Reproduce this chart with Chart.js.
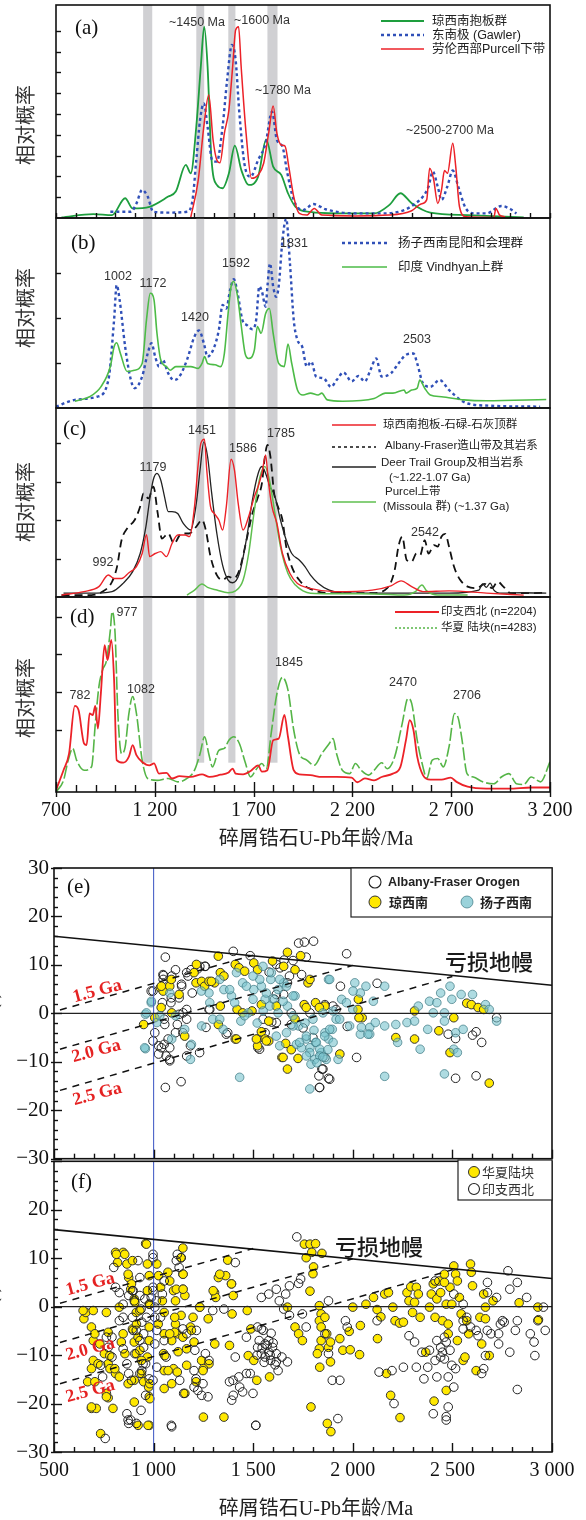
<!DOCTYPE html>
<html><head><meta charset="utf-8">
<script src="https://cdn.jsdelivr.net/npm/chart.js@4.4.0/dist/chart.umd.min.js"></script>
<style>
body{margin:0;background:#fff;}
#wrap{position:relative;width:586px;height:1520px;overflow:hidden;background:#fff;}
canvas{position:absolute;left:0;}
svg.ov{position:absolute;left:0;top:0;}
.t{position:absolute;white-space:nowrap;line-height:1;}
.c{transform:translate(-50%,-50%);}
.l{transform:translateY(-50%);}
.pk{font-family:"Liberation Sans",Arial,sans-serif;font-size:12.5px;color:#333;}
.pl{font-family:"Liberation Serif","Times New Roman",serif;font-size:21px;color:#111;}
.yt{font-family:"Noto Sans CJK SC",sans-serif;font-size:20px;color:#333;transform:translate(-50%,-50%) rotate(-90deg);}
.lg{font-family:"Liberation Sans","Noto Sans CJK SC",sans-serif;font-size:12.5px;color:#222;}
.lg2{font-family:"Liberation Sans","Noto Sans CJK SC",sans-serif;font-size:11.5px;color:#222;}
.xt{font-family:"Liberation Serif","Noto Sans CJK SC",serif;font-size:20px;color:#222;}
.dm{font-family:"Noto Sans CJK SC",sans-serif;font-size:22px;font-weight:500;color:#1a1a1a;}
.ga{font-family:"Liberation Serif",serif;font-size:18px;font-weight:bold;color:#e52222;transform:translate(-50%,-50%) rotate(-15deg);}
</style></head><body><div id="wrap">
<canvas id="cA" width="586" height="222" style="top:0px"></canvas>
<canvas id="cB" width="586" height="198" style="top:214px"></canvas>
<canvas id="cC" width="586" height="197" style="top:404px"></canvas>
<canvas id="cD" width="586" height="240" style="top:593px"></canvas>
<canvas id="cE" width="586" height="314" style="top:850px"></canvas>
<canvas id="cF" width="586" height="364" style="top:1156px"></canvas>

<svg class="ov" width="586" height="1520">
 <g fill="none">
  <line x1="381" y1="21" x2="424" y2="21" stroke="#1e9e3e" stroke-width="1.8"/>
  <line x1="381" y1="35" x2="424" y2="35" stroke="#3050b8" stroke-width="2.4" stroke-dasharray="3 3"/>
  <line x1="381" y1="49" x2="424" y2="49" stroke="#ec2228" stroke-width="1.6"/>
  <line x1="342" y1="243" x2="387" y2="243" stroke="#3050b8" stroke-width="2.4" stroke-dasharray="3 3"/>
  <line x1="342" y1="267" x2="387" y2="267" stroke="#4dbb47" stroke-width="1.6"/>
  <line x1="332" y1="425" x2="376" y2="425" stroke="#ec2228" stroke-width="1.5"/>
  <line x1="332" y1="447" x2="376" y2="447" stroke="#111" stroke-width="1.6" stroke-dasharray="3 3"/>
  <line x1="332" y1="467" x2="376" y2="467" stroke="#222" stroke-width="1.3"/>
  <line x1="332" y1="502" x2="376" y2="502" stroke="#5fbf4f" stroke-width="1.5"/>
  <line x1="395" y1="612" x2="439" y2="612" stroke="#ec2228" stroke-width="1.8"/>
  <line x1="395" y1="628" x2="439" y2="628" stroke="#55b547" stroke-width="1.5" stroke-dasharray="2 2"/>
 </g>
 <rect x="351" y="868" width="201" height="49" fill="#fff" stroke="#222" stroke-width="1.2"/>
 <circle cx="375" cy="882" r="6" fill="none" stroke="#222" stroke-width="1.1"/>
 <circle cx="375" cy="902" r="6" fill="#ffe800" stroke="#333" stroke-width="1"/>
 <circle cx="467" cy="902" r="6" fill="rgba(120,195,205,0.75)" stroke="rgba(60,120,130,0.7)" stroke-width="1"/>
 <rect x="458" y="1160" width="94" height="40" fill="#fff" stroke="#222" stroke-width="1.2"/>
 <circle cx="474" cy="1172" r="5.5" fill="#ffe800" stroke="#333" stroke-width="1"/>
 <circle cx="474" cy="1189" r="5.5" fill="none" stroke="#222" stroke-width="1.1"/>
</svg>

<div class="t yt" style="left:25px;top:125px">相对概率</div>
<div class="t yt" style="left:25px;top:308px">相对概率</div>
<div class="t yt" style="left:25px;top:502px">相对概率</div>
<div class="t yt" style="left:25px;top:698px">相对概率</div>

<div class="t pl l" style="left:75px;top:27px">(a)</div>
<div class="t pl l" style="left:71px;top:242px">(b)</div>
<div class="t pl l" style="left:63px;top:428px">(c)</div>
<div class="t pl l" style="left:70px;top:616px">(d)</div>
<div class="t pl l" style="left:67px;top:886px">(e)</div>
<div class="t pl l" style="left:71px;top:1181px">(f)</div>

<div class="t pk c" style="left:197px;top:22px">~1450 Ma</div>
<div class="t pk c" style="left:262px;top:20px">~1600 Ma</div>
<div class="t pk c" style="left:283px;top:90px">~1780 Ma</div>
<div class="t pk c" style="left:450px;top:130px">~2500-2700 Ma</div>
<div class="t pk c" style="left:118px;top:276px">1002</div>
<div class="t pk c" style="left:153px;top:283px">1172</div>
<div class="t pk c" style="left:195px;top:317px">1420</div>
<div class="t pk c" style="left:236px;top:263px">1592</div>
<div class="t pk c" style="left:294px;top:243px">1831</div>
<div class="t pk c" style="left:417px;top:339px">2503</div>
<div class="t pk c" style="left:153px;top:467px">1179</div>
<div class="t pk c" style="left:202px;top:430px">1451</div>
<div class="t pk c" style="left:243px;top:448px">1586</div>
<div class="t pk c" style="left:281px;top:433px">1785</div>
<div class="t pk c" style="left:103px;top:562px">992</div>
<div class="t pk c" style="left:425px;top:532px">2542</div>
<div class="t pk c" style="left:127px;top:612px">977</div>
<div class="t pk c" style="left:80px;top:695px">782</div>
<div class="t pk c" style="left:141px;top:689px">1082</div>
<div class="t pk c" style="left:289px;top:662px">1845</div>
<div class="t pk c" style="left:403px;top:682px">2470</div>
<div class="t pk c" style="left:467px;top:695px">2706</div>

<div class="t lg l" style="left:432px;top:21px">琼西南抱板群</div>
<div class="t lg l" style="left:432px;top:35px">东南极 (Gawler)</div>
<div class="t lg l" style="left:432px;top:49px">劳伦西部Purcell下带</div>
<div class="t lg l" style="left:398px;top:243px">扬子西南昆阳和会理群</div>
<div class="t lg l" style="left:398px;top:267px">印度 Vindhyan上群</div>
<div class="t lg2 l" style="left:383px;top:425px">琼西南抱板-石碌-石灰顶群</div>
<div class="t lg2 l" style="left:385px;top:446px">Albany-Fraser造山带及其岩系</div>
<div class="t lg2 l" style="left:381px;top:463px">Deer Trail Group及相当岩系</div>
<div class="t lg2 l" style="left:389px;top:478px">(~1.22-1.07 Ga)</div>
<div class="t lg2 l" style="left:385px;top:492px">Purcel上带</div>
<div class="t lg2 l" style="left:383px;top:507px">(Missoula 群) (~1.37 Ga)</div>
<div class="t lg2 l" style="left:441px;top:612px">印支西北 (n=2204)</div>
<div class="t lg2 l" style="left:441px;top:628px">华夏 陆块(n=4283)</div>

<div class="t xt c" style="left:316px;top:838px">碎屑锆石U-Pb年龄/Ma</div>
<div class="t xt c" style="left:316px;top:1508px">碎屑锆石U-Pb年龄/Ma</div>
<div class="t xt c" style="left:-10px;top:1016px;transform:translate(-50%,-50%) rotate(-90deg)">εHf(t)</div>
<div class="t xt c" style="left:-10px;top:1310px;transform:translate(-50%,-50%) rotate(-90deg)">εHf(t)</div>

<div class="t lg l" style="left:388px;top:882px;font-weight:bold">Albany-Fraser Orogen</div>
<div class="t lg l" style="left:389px;top:902px;font-weight:bold;font-size:13px">琼西南</div>
<div class="t lg l" style="left:480px;top:902px;font-weight:bold;font-size:13px">扬子西南</div>
<div class="t lg l" style="left:482px;top:1172px;font-size:13px;color:#333">华夏陆块</div>
<div class="t lg l" style="left:482px;top:1189px;font-size:13px;color:#333">印支西北</div>

<div class="t dm c" style="left:489px;top:960px">亏损地幔</div>
<div class="t dm c" style="left:379px;top:1245px">亏损地幔</div>
<div class="t ga" style="left:97px;top:990px">1.5 Ga</div>
<div class="t ga" style="left:96px;top:1050px">2.0 Ga</div>
<div class="t ga" style="left:97px;top:1093px">2.5 Ga</div>
<div class="t ga" style="left:90px;top:1283px">1.5 Ga</div>
<div class="t ga" style="left:90px;top:1348px">2.0 Ga</div>
<div class="t ga" style="left:90px;top:1390px">2.5 Ga</div>
</div>

<script>
// ---------- data: age (Ma) vs relative probability ----------
const bandRanges = [[1141,1187],[1410,1450],[1572,1608],[1770,1821]];

const aGreen = [[728,0.03],[889,0.19],[984,0.14],[1050,0.95],[1088,0.46],[1173,0.54],[1268,1.03],[1306,1.27],[1357,2.55],[1382,2.15],[1410,4.4],[1433,7.3],[1450,9.2],[1467,7.3],[1486,2.95],[1514,1.59],[1543,1.43],[1575,2.15],[1605,3.48],[1638,2.3],[1675,1.59],[1723,1.99],[1764,3.78],[1799,2.47],[1840,2.07],[1874,1.19],[1912,0.54],[1988,0.29],[2120,0.22],[2310,0.22],[2386,0.62],[2443,1.19],[2500,0.71],[2594,0.26],[2783,0.14],[3067,0.03]];
const aBlue = [[975,0.3],[1079,0.3],[1107,0.7],[1136,1.35],[1164,1.03],[1192,0.3],[1268,0.26],[1363,0.3],[1391,0.87],[1410,2.79],[1429,4.71],[1448,5.51],[1467,4.39],[1490,2.79],[1514,2.71],[1543,4.39],[1566,6.63],[1590,8.32],[1609,7.6],[1628,5.03],[1656,2.47],[1685,1.99],[1723,2.79],[1761,3.59],[1793,5.11],[1818,3.75],[1846,3.43],[1871,2.15],[1903,0.87],[1950,0.38],[2003,0.67],[2064,0.42],[2215,0.22],[2348,0.22],[2462,0.38],[2519,0.7],[2557,1.03],[2585,1.5],[2607,2.23],[2632,1.5],[2651,0.87],[2680,1.5],[2708,2.28],[2736,1.5],[2774,0.46],[2821,0.22],[2878,0.22],[2954,0.58],[3001,0.42],[3030,0.22]];
const aRed = [[1382,0.03],[1420,1.83],[1448,4.39],[1473,5.91],[1495,3.75],[1514,2.79],[1530,2.66],[1552,4.07],[1575,5.19],[1594,7.28],[1609,9.04],[1624,9.2],[1637,7.28],[1662,4.07],[1689,1.91],[1723,2.07],[1751,2.63],[1776,4.07],[1799,5.38],[1818,4.07],[1840,3.51],[1859,3.46],[1878,2.47],[1903,1.03],[1931,0.22],[1969,0.14],[2007,0.46],[2045,0.14],[2215,0.1],[2386,0.14],[2500,0.35],[2547,0.67],[2576,0.87],[2591,2.39],[2610,1.91],[2632,0.7],[2651,1.35],[2666,2.28],[2681,2.15],[2708,3.59],[2723,2.47],[2742,0.54],[2774,0.06],[2916,0.03],[2926,0.46],[2945,0.14],[2973,0.06]];

const bBlue = [[700,0.03],[795,0.18],[908,0.25],[965,0.62],[994,1.96],[1007,2.73],[1022,2.4],[1050,1.36],[1079,0.62],[1098,0.44],[1136,0.7],[1164,1.21],[1183,1.44],[1202,1.14],[1221,0.92],[1240,1.07],[1268,0.77],[1297,0.62],[1325,0.7],[1363,1.07],[1401,1.59],[1424,1.72],[1448,1.44],[1467,1.14],[1495,1.29],[1524,1.73],[1543,2.29],[1562,2.21],[1581,2.62],[1600,2.86],[1619,2.55],[1643,1.96],[1666,1.84],[1694,1.75],[1713,1.96],[1729,2.7],[1742,2.59],[1761,2.25],[1770,2.7],[1783,3.21],[1799,2.7],[1814,2.47],[1827,2.7],[1846,3.73],[1865,4.2],[1884,3.21],[1903,1.96],[1922,1.51],[1946,1.36],[1969,0.92],[1992,1.03],[2016,0.7],[2054,0.66],[2092,0.47],[2120,0.62],[2155,0.79],[2196,0.59],[2230,0.71],[2263,0.59],[2291,0.84],[2320,1.1],[2348,0.7],[2395,0.77],[2433,0.99],[2471,1.18],[2509,1.21],[2528,0.99],[2557,0.55],[2594,0.47],[2641,0.62],[2689,0.4],[2746,0.18],[2783,0.1],[2900,0.05],[3150,0.03]];
const bGreen = [[795,0.15],[870,0.25],[927,0.47],[975,0.92],[994,1.36],[1007,1.45],[1026,1.21],[1060,0.81],[1098,0.84],[1136,0.99],[1158,1.96],[1177,2.55],[1196,2.4],[1211,1.66],[1230,1.07],[1259,0.92],[1278,0.84],[1306,0.92],[1382,0.92],[1420,0.88],[1439,0.99],[1452,1.14],[1467,0.99],[1505,0.96],[1533,0.92],[1552,1.21],[1571,2.1],[1586,2.7],[1600,2.81],[1619,2.47],[1638,1.81],[1657,1.21],[1675,1.1],[1704,1.29],[1719,1.81],[1738,1.66],[1761,2.1],[1780,2.21],[1799,1.66],[1827,0.99],[1855,0.92],[1874,1.42],[1893,0.99],[1922,0.4],[1950,0.29],[1988,0.33],[2026,0.29],[2045,0.33],[2073,0.18],[2150,0.15],[2310,0.21],[2367,0.33],[2405,0.33],[2462,0.4],[2471,0.33],[2500,0.4],[2528,0.44],[2541,0.62],[2566,0.44],[2594,0.29],[2651,0.25],[2764,0.18],[2878,0.16],[3181,0.19]];

const cRed = [[728,0.05],[841,0.14],[917,0.27],[965,0.57],[994,0.48],[1032,0.48],[1069,0.63],[1107,0.79],[1136,1.13],[1158,1.62],[1174,1.05],[1202,1.13],[1230,1.18],[1259,1.05],[1287,1.39],[1316,1.61],[1354,1.61],[1376,1.57],[1401,2.35],[1420,3.47],[1433,3.99],[1451,4.1],[1463,3.3],[1482,2.35],[1501,2.17],[1524,2.0],[1543,1.74],[1562,2.35],[1586,3.58],[1603,3.3],[1622,2.43],[1647,1.74],[1675,2.09],[1704,2.61],[1723,2.87],[1742,3.21],[1761,3.69],[1774,3.04],[1793,2.35],[1818,1.91],[1846,1.13],[1884,0.61],[1922,0.35],[1979,0.23],[2110,0.14],[2300,0.18],[2395,0.29],[2446,0.42],[2500,0.27],[2557,0.14],[2689,0.16],[2878,0.1],[3067,0.05]];
const cDash = [[728,0.05],[879,0.05],[936,0.14],[984,0.4],[1009,0.79],[1032,1.48],[1060,1.78],[1098,2.0],[1126,2.35],[1143,2.69],[1168,2.56],[1193,2.87],[1214,2.2],[1236,1.52],[1268,1.65],[1297,1.39],[1335,1.65],[1373,1.65],[1410,1.83],[1439,2.0],[1458,1.74],[1482,1.05],[1514,0.57],[1543,0.44],[1571,0.53],[1600,0.48],[1628,0.7],[1657,1.31],[1694,2.17],[1723,2.61],[1742,2.95],[1755,3.56],[1770,3.95],[1785,3.65],[1804,2.69],[1823,2.35],[1846,2.0],[1865,1.31],[1893,0.79],[1931,0.44],[1979,0.23],[2110,0.1],[2300,0.1],[2376,0.23],[2414,0.7],[2433,1.31],[2452,1.57],[2475,0.96],[2500,0.92],[2524,1.13],[2543,1.09],[2566,1.48],[2585,1.13],[2613,1.35],[2632,1.31],[2651,1.57],[2670,1.64],[2689,1.31],[2714,0.79],[2746,0.44],[2783,0.27],[2831,0.23],[2869,0.34],[2907,0.23],[2935,0.4],[2964,0.27],[3001,0.1],[3096,0.1],[3181,0.11]];
const cBlack = [[738,0.1],[870,0.1],[984,0.14],[1041,0.36],[1088,0.66],[1126,1.13],[1155,1.83],[1174,2.52],[1192,3.04],[1211,3.21],[1230,3.04],[1249,2.61],[1268,2.22],[1287,2.22],[1316,2.17],[1344,1.91],[1382,1.74],[1410,2.43],[1429,3.3],[1448,4.03],[1467,3.65],[1486,2.78],[1514,1.65],[1543,0.83],[1571,0.44],[1594,0.37],[1628,0.61],[1666,1.57],[1694,2.52],[1723,3.21],[1742,3.39],[1761,3.21],[1783,2.87],[1808,2.61],[1836,2.0],[1865,1.48],[1893,1.13],[1931,0.96],[1960,0.79],[1988,0.57],[2026,0.36],[2083,0.18],[2177,0.1],[2500,0.1],[2689,0.1],[2840,0.18],[2859,0.34],[2878,0.25],[2897,0.36],[2916,0.18],[2954,0.1],[3067,0.11],[3181,0.1]];
const cGreen = [[1363,0.05],[1401,0.18],[1439,0.34],[1467,0.25],[1514,0.18],[1571,0.11],[1609,0.16],[1647,0.44],[1675,1.13],[1704,2.26],[1733,3.13],[1757,3.39],[1780,3.04],[1808,2.17],[1836,1.31],[1874,0.61],[1912,0.31],[1950,0.16],[1988,0.1],[2310,0.08],[2462,0.05],[2519,0.14],[2552,0.31],[2576,0.16],[2632,0.05],[2783,0.05]];

const dRed = [[700,-0.61],[738,-0.08],[766,0.36],[795,1.63],[814,1.52],[842,0.63],[855,0.59],[870,1.43],[886,1.39],[899,1.63],[912,1.03],[927,1.96],[946,3.25],[961,2.85],[980,3.39],[994,2.32],[1007,0.19],[1041,0.12],[1069,0.28],[1088,0.59],[1107,0.32],[1136,0.14],[1173,0.05],[1196,0.1],[1221,-0.17],[1259,-0.15],[1287,-0.3],[1325,-0.24],[1382,-0.26],[1439,-0.19],[1477,-0.26],[1533,-0.2],[1571,-0.15],[1594,-0.04],[1609,-0.17],[1647,-0.19],[1685,-0.1],[1723,0.05],[1742,-0.12],[1770,-0.08],[1799,0.72],[1827,0.76],[1856,1.39],[1874,0.81],[1903,-0.08],[1931,-0.19],[1988,-0.21],[2045,-0.26],[2120,-0.26],[2196,-0.28],[2225,-0.4],[2263,-0.3],[2310,-0.35],[2348,-0.26],[2405,-0.17],[2443,0.01],[2471,0.72],[2490,1.25],[2509,0.99],[2528,0.28],[2557,-0.21],[2594,-0.33],[2651,-0.33],[2698,-0.28],[2727,-0.39],[2783,-0.52],[2878,-0.57],[2992,-0.57],[3105,-0.54],[3200,-0.54]];
const dGreen = [[700,-0.66],[738,-0.35],[762,0.19],[785,0.5],[804,0.19],[842,-0.08],[880,0.01],[899,1.16],[917,2.14],[936,2.59],[956,2.85],[975,3.65],[984,4.14],[999,3.56],[1013,1.43],[1032,0.36],[1050,0.54],[1069,1.43],[1088,1.88],[1107,1.43],[1136,0.19],[1164,-0.3],[1211,-0.35],[1268,-0.3],[1316,-0.39],[1363,-0.3],[1401,-0.08],[1429,0.36],[1452,0.81],[1473,0.36],[1492,0.01],[1524,0.45],[1552,0.5],[1575,0.72],[1600,0.81],[1628,0.63],[1657,0.14],[1685,-0.26],[1713,-0.06],[1742,0.1],[1764,-0.04],[1789,0.9],[1818,1.96],[1846,2.39],[1874,2.05],[1903,0.99],[1931,0.36],[1969,0.19],[2007,0.05],[2045,0.36],[2083,0.63],[2102,0.76],[2120,0.36],[2149,-0.08],[2187,-0.17],[2215,0.1],[2244,-0.08],[2282,-0.21],[2310,-0.08],[2348,0.12],[2376,-0.04],[2414,0.28],[2452,1.16],[2481,1.83],[2500,1.7],[2528,0.72],[2557,0.01],[2576,-0.3],[2604,0.19],[2632,0.23],[2660,0.01],[2689,0.54],[2717,1.43],[2736,1.3],[2755,0.72],[2780,-0.17],[2812,-0.26],[2859,-0.39],[2916,-0.44],[2954,-0.26],[2992,-0.17],[3030,-0.44],[3067,-0.46],[3105,-0.26],[3152,-0.39],[3200,0.14]];

// ---------- data: age (Ma) vs eHf(t) ----------
const dmLine = [[500,15.9],[3000,5.8]];
const chur = [[500,0],[3000,0]];
const ga15 = [[530,0.7],[1500,12.0]];
const ga20 = [[530,-7.4],[2000,9.9]];
const ga25 = [[530,-15.9],[2500,7.6]];
const ref1000 = [[1000,-30],[1000,30]];

const eAFO = [[1059,11.6],[1050,7.8],[1048,7.0],[1110,9.0],[1141,5.6],[1091,7.7],[1166,8.4],[1188,9.0],[1222,9.2],[1260,9.7],[988,4.6],[1044,2.2],[1087,2.2],[1128,3.2],[1194,4.2],[1278,0.8],[1263,-2.9],[997,-5.7],[1025,-6.7],[1053,-6.4],[1081,-7.1],[1025,-8.4],[1063,-8.8],[1081,-9.8],[1110,-4.0],[1119,-2.3],[1166,-8.8],[1185,-6.7],[1231,-8.1],[1059,-15.3],[1138,-14.1],[1166,-1.2],[1166,0.8],[1053,-1.2],[1006,-4.0],[1128,-0.2],[1147,-4.0],[1372,-4.0],[1400,12.8],[1485,11.9],[1522,-5.3],[1532,-7.4],[1560,-4.0],[1616,10.1],[1635,9.4],[1682,7.7],[1728,14.5],[1757,14.7],[1803,14.9],[1766,11.6],[1743,8.0],[1691,-2.3],[1593,-1.8],[1653,3.9],[1860,-9.1],[1832,-15.3],[1845,-11.5],[1878,-13.4],[1916,0.8],[1938,5.6],[1969,12.3],[1972,-2.7],[2019,-9.1],[2122,6.2],[2516,-5.2],[2516,-13.4],[2619,-12.9],[2647,-6.0],[2601,-4.5],[2619,-3.8],[2722,-0.9],[2479,-4.3],[1616,3.9],[1672,6.3],[1607,2.9],[1550,-1.2],[1691,0.1],[1785,0.1],[1860,1.8],[1047,8.0],[1173,7.7],[1140,6.0],[1232,9.7],[1257,9.7],[997,4.6],[1089,3.2],[1148,0.1],[1056,-2.3],[1039,-7.1],[1073,-5.3],[1081,-9.5],[1282,0.8],[1365,-4.3],[1524,-7.1],[1616,-1.9],[1850,-11.5],[1884,-13.6],[1834,-15.3],[1830,-12.9],[1655,11.0],[1700,10.9],[1580,8.5],[1900,1.5],[1750,-3.0],[1800,-5.0]];
const eQXN = [[950,-2.3],[1006,-0.9],[1034,5.3],[1048,4.6],[1081,5.6],[1038,1.2],[1091,0.1],[1128,3.9],[1156,-4.7],[1203,8.4],[1213,6.3],[1241,6.6],[1256,5.6],[1278,6.6],[1306,6.3],[1325,11.8],[1335,8.4],[1353,7.7],[1335,1.5],[1410,10.1],[1429,9.4],[1457,8.7],[1503,10.4],[1522,9.0],[1597,10.8],[1653,9.7],[1672,12.6],[1710,9.0],[1738,11.9],[1775,6.3],[1785,7.0],[1813,2.2],[1860,1.5],[1832,1.2],[2028,2.9],[2047,-0.9],[2310,0.5],[2216,-5.0],[2310,-5.3],[2432,-3.6],[2488,-8.1],[2507,-0.9],[2572,2.1],[2595,1.8],[2629,1.2],[2657,0.8],[2685,-14.4],[1325,-2.3],[1410,-5.3],[1522,-6.7],[1541,-3.8],[1560,-5.3],[1578,-5.7],[1644,-9.1],[1672,-11.5],[1691,-7.5],[1725,-9.3],[1663,-6.2],[1710,-1.2],[1756,1.8],[1578,-1.6],[1616,1.5],[1935,-8.4],[1766,1.2],[1419,0.8],[1447,0.1],[1494,0.5],[1541,1.8],[1039,5.6],[1089,7.0],[1215,10.1],[1290,6.6],[1416,-5.3],[1516,-5.3],[1566,-5.7],[1650,-9.1],[2031,-0.9],[2026,0.8]];
const eYZ = [[959,-0.2],[959,-7.3],[988,2.2],[1016,-1.9],[1091,-5.3],[1110,-0.5],[1185,-9.5],[1241,-2.6],[1297,-1.2],[1278,4.2],[1353,4.9],[1391,3.6],[1432,-13.2],[1438,-1.6],[1475,0.1],[1447,6.3],[1503,4.9],[1541,5.6],[1560,2.9],[1588,7.0],[1625,4.9],[1653,6.3],[1625,0.1],[1672,1.5],[1710,3.6],[1728,-2.6],[1766,-5.3],[1785,-7.1],[1813,-6.0],[1841,-8.1],[1878,-5.3],[1897,-3.3],[1860,-4.0],[1916,-1.2],[1944,2.9],[2000,0.8],[2038,4.2],[2066,5.6],[2085,-2.9],[2103,2.5],[2160,5.6],[2160,-2.6],[2160,-13.0],[2216,-2.3],[2225,-6.0],[2272,-1.9],[2310,-1.6],[2338,-7.4],[2329,1.5],[2376,-3.3],[2385,2.5],[2422,2.2],[2441,4.2],[2460,-12.5],[2460,0.1],[2488,5.6],[2497,2.9],[2516,-4.0],[2507,-7.4],[2525,-8.1],[2544,3.9],[2554,-3.3],[2601,3.9],[2666,1.8],[2685,0.8],[2722,-1.6],[2460,-1.6],[2404,0.1],[1878,7.0],[2010,6.3],[2113,-1.9],[2038,-4.3],[2085,-4.3],[964,0.1],[955,-7.1],[989,2.5],[1031,-0.5],[1081,4.2],[1156,-3.3],[1190,-6.4],[1240,4.6],[1282,2.2],[1332,-1.2],[1349,-3.3],[1382,4.9],[1407,2.2],[1457,-0.5],[1466,5.6],[1499,2.9],[1533,7.0],[1566,4.2],[1583,1.5],[1616,-4.7],[1633,-6.7],[1667,-4.0],[1700,-2.6],[1717,-6.4],[1742,-7.1],[1767,-4.7],[1784,-8.1],[1817,-6.0],[1834,-7.4],[1859,-4.7],[1884,-3.3],[1901,-6.0],[1926,-9.5],[1867,-9.5],[1809,-9.5],[1784,-15.6],[1834,-8.8],[1767,-8.8],[1733,-6.0],[1800,-1.2],[1850,0.1],[1901,0.5],[1934,-1.2],[1984,-2.6],[2043,-2.9],[2076,-4.3],[1884,7.0],[1968,2.2],[2001,4.6],[1591,8.4],[1633,7.0],[1667,5.6],[1700,3.6],[1499,7.7],[1549,9.7],[1416,8.4],[1332,7.0],[1790,-10.5],[1820,-10.2],[1850,-9.0],[1875,-7.5],[1805,-3.5],[1760,-2.0],[1700,-0.5],[1650,2.5],[1600,3.0],[1550,0.5],[1520,-2.0]];

const fHX = [[650,-2.5],[660,-1.2],[697,-0.8],[688,-4.2],[697,-7.0],[697,-11.1],[688,-12.8],[669,-15.5],[688,-21.0],[712,-21.0],[734,-26.2],[763,-1.2],[772,-5.3],[753,-9.7],[772,-11.8],[781,-12.8],[763,-17.9],[772,-18.8],[796,-21.0],[809,11.2],[819,9.1],[847,11.2],[866,8.8],[894,9.5],[828,-0.1],[847,-5.6],[838,-7.3],[856,-9.7],[809,-13.8],[828,-14.5],[875,6.0],[885,3.6],[903,1.6],[913,-1.2],[894,-4.6],[903,-7.3],[913,-9.7],[903,-15.2],[903,-19.7],[922,-24.5],[950,-15.5],[960,13.0],[969,8.8],[978,6.4],[969,3.3],[978,0.5],[978,-4.2],[978,-7.0],[969,-10.4],[975,-16.6],[978,-18.6],[978,-24.5],[1016,8.8],[1025,6.4],[1035,4.0],[1044,1.2],[1053,-1.2],[1053,-5.6],[1050,-9.7],[1053,-13.2],[1053,-16.9],[1072,7.1],[1081,5.3],[1100,3.3],[1110,1.2],[1110,-3.6],[1119,-5.6],[1091,-7.0],[1100,-12.8],[1119,-13.5],[1091,-15.9],[1138,10.1],[1147,12.1],[1147,6.7],[1147,3.6],[1157,2.3],[1138,-1.8],[1147,-6.3],[1166,-8.7],[1157,-17.9],[1166,-12.1],[1185,-4.2],[1203,-7.3],[1213,-15.5],[1250,-22.8],[1231,-0.1],[1241,-11.1],[1278,-11.8],[1250,-12.8],[1274,-2.5],[1306,2.9],[1312,1.9],[1325,6.0],[1362,6.4],[1372,9.6],[1391,4.7],[1400,2.3],[1394,-1.5],[1381,-8.0],[1353,-22.8],[1470,-0.8],[1475,-10.1],[1518,-15.2],[1488,-4.6],[1582,-14.5],[1503,-11.1],[1672,-0.1],[1710,-4.2],[1728,-5.6],[1747,-7.0],[1757,12.9],[1785,12.9],[1813,13.0],[1766,10.1],[1794,11.2],[1845,11.0],[1803,8.2],[1800,6.8],[1785,3.2],[1790,-20.7],[1832,0.2],[1841,-1.5],[1832,-2.9],[1841,-4.2],[1841,-7.0],[1832,-8.7],[1822,-9.7],[1834,-12.5],[1860,-2.2],[1869,-5.6],[1878,-8.4],[1888,-11.4],[1888,-7.3],[1872,-24.1],[1890,-25.8],[1935,-6.6],[1950,-9.0],[1982,-5.1],[1987,-8.9],[2000,-0.1],[2034,-9.9],[2038,-3.9],[2066,0.5],[2104,1.9],[2122,-0.6],[2124,-6.6],[2141,-2.1],[2160,2.6],[2179,2.9],[2190,-18.3],[2169,-13.8],[2201,-0.1],[2212,-2.9],[2235,-3.4],[2237,-22.9],[2254,-3.2],[2272,2.9],[2282,1.2],[2291,4.1],[2300,-1.2],[2319,4.0],[2329,2.6],[2310,0.9],[2338,-2.2],[2366,-9.4],[2385,-0.1],[2394,2.6],[2408,-19.5],[2404,4.7],[2413,-2.2],[2422,1.6],[2432,5.3],[2441,2.9],[2450,-2.9],[2460,6.7],[2469,-17.3],[2469,0.5],[2479,-3.6],[2488,4.0],[2507,8.4],[2516,6.7],[2525,5.3],[2535,1.9],[2525,-7.0],[2544,-1.5],[2554,-11.1],[2563,-10.4],[2572,-2.9],[2582,-5.6],[2591,8.8],[2595,7.1],[2601,4.3],[2619,-13.2],[2647,-7.7],[2657,2.6],[2666,-0.1],[2685,-10.1],[2704,1.2],[2638,-2.2],[2835,0.8],[2929,-0.1],[2932,-2.7],[2666,-2.5],[2460,5.0],[2497,0.5],[2479,-5.6],[813,10.8],[855,10.8],[964,12.9],[872,6.7],[889,4.7],[906,0.9],[931,-0.8],[914,-3.6],[922,-6.3],[931,-9.0],[939,-11.1],[939,-13.8],[872,-15.9],[981,-15.9],[981,-19.0],[972,-24.5],[1023,-3.6],[1056,-10.1],[1073,-13.2],[1106,-2.2],[1106,-5.3],[1081,-5.6],[1123,-9.3],[1148,6.7],[1114,3.6],[1148,3.6],[1198,-2.2],[1190,-4.9],[1232,-0.1],[1248,-13.2],[1299,3.3],[1332,6.7],[1307,-7.7],[1391,4.7],[730,-7.7],[705,-5.6],[721,-11.8],[705,-15.5],[780,-10.1],[805,-12.8],[763,-18.6],[646,-0.8],[688,-20.7]];
const fYZ = [[763,-6.3],[772,-8.4],[791,-6.3],[791,-10.4],[734,-12.1],[744,-14.5],[757,-27.2],[800,8.1],[809,4.0],[828,2.9],[847,0.5],[847,-2.2],[828,-2.9],[847,-8.7],[866,-11.8],[875,-13.8],[875,-24.1],[885,-23.4],[866,-22.1],[875,2.3],[894,3.3],[903,1.2],[894,-2.2],[913,-4.9],[922,9.5],[931,6.0],[937,-0.5],[941,-3.2],[950,-5.6],[950,-8.4],[960,-11.8],[941,-13.2],[937,-21.4],[960,-18.3],[978,-14.9],[988,1.9],[997,10.1],[997,4.0],[1006,-0.1],[1006,-2.2],[1016,-4.9],[1006,-7.7],[1016,-12.5],[997,-15.2],[1035,-2.2],[1044,2.6],[1053,5.3],[1053,-7.0],[1063,-10.4],[1091,-24.8],[1119,10.8],[1128,8.1],[1138,10.1],[1147,-4.6],[1166,-5.6],[1151,-17.9],[1203,-13.2],[1213,-14.9],[1203,-16.6],[1222,-17.3],[1241,-18.3],[1260,-9.7],[1278,-11.1],[1297,-0.8],[1353,-0.5],[1381,-15.5],[1392,-19.3],[1400,-18.3],[1410,-10.4],[1410,9.1],[1428,-14.5],[1447,-17.6],[1466,-13.8],[1466,-6.3],[1485,-13.8],[1513,-24.5],[1522,-4.2],[1541,-4.6],[1550,-4.9],[1560,-7.7],[1578,-7.0],[1522,-8.4],[1541,-9.7],[1560,-10.4],[1578,-9.4],[1597,-8.4],[1616,-9.7],[1588,-11.1],[1616,-11.4],[1644,-10.4],[1672,-11.4],[1625,-13.2],[1541,1.9],[1578,2.6],[1616,3.6],[1631,1.2],[1653,-0.5],[1682,-1.8],[1663,2.6],[1682,4.3],[1728,4.8],[1738,5.7],[1719,14.4],[1747,-1.5],[1766,-4.2],[1860,-5.6],[1878,1.2],[1878,-9.7],[1897,-15.2],[1935,-15.2],[1925,-23.1],[1963,-2.9],[1972,-4.2],[2122,-2.9],[2132,-13.5],[2197,-13.2],[2207,-20.0],[2254,-12.5],[2282,-6.0],[2310,-7.3],[2319,-12.5],[2347,-9.4],[2357,-14.9],[2376,-12.5],[2385,-9.0],[2404,-22.1],[2413,-11.1],[2422,-14.5],[2422,-7.0],[2441,-8.4],[2450,-9.4],[2460,-10.8],[2469,-7.3],[2469,-22.7],[2469,-23.4],[2479,-20.7],[2479,-14.5],[2488,-9.0],[2497,-12.1],[2507,-16.6],[2516,-12.8],[2441,-10.4],[2460,-6.3],[2413,5.3],[2507,2.6],[2554,0.5],[2554,-4.6],[2591,-4.2],[2619,-4.9],[2629,-6.0],[2647,-13.8],[2657,-12.8],[2666,-10.1],[2676,5.0],[2676,2.9],[2722,1.9],[2732,-5.6],[2741,-3.6],[2760,-3.2],[2779,7.4],[2788,3.6],[2788,-9.4],[2826,5.0],[2826,-17.1],[2826,-2.9],[2816,-4.9],[2873,1.9],[2891,-5.6],[2910,-7.3],[2914,-10.1],[2929,-2.9],[2957,-0.1],[2966,-4.9],[2732,-7.7],[2751,-2.9],[2694,-5.6],[2675,-4.9],[2554,-2.9],[2572,-2.2],[1530,-7.0],[1545,-8.5],[1570,-8.0],[1585,-10.0],[1600,-7.5],[1555,-11.5],[1520,-10.0],[1610,-12.0],[1590,-5.5],[897,3.3],[931,2.3],[956,1.6],[981,0.5],[997,3.3],[1014,1.2],[964,-2.2],[897,-4.9],[931,-7.0],[906,-9.7],[947,-11.8],[931,-13.8],[889,-15.2],[872,-23.4],[914,-24.1],[997,10.8],[1114,9.5],[1215,-4.9],[1207,-9.0],[1248,-15.9],[1273,-18.6],[1131,-15.2],[1089,-24.5],[1399,-15.2],[1432,-16.6],[1499,-17.9],[1513,-24.5]];

// ---------- helpers ----------
const pts = arr => arr.map(p => ({x: p[0], y: p[1]}));
const fmtK = v => v >= 1000 ? Math.floor(v/1000) + ' ' + String(v % 1000).padStart(3,'0') : String(v);
const fmtMinus = v => v < 0 ? '\u2212' + (-v) : String(v);
const fixH = s => { s.height = 36; };
const fixW = s => { s.width = 54; s.paddingTop = 0; s.paddingBottom = 0; };

const framePlugin = {
  id: 'frame',
  beforeDatasetsDraw(chart, args, o) {
    if (!o.bands) return;
    const {ctx, chartArea: a, scales: {x, y}} = chart;
    ctx.save(); ctx.fillStyle = '#d0d0d3';
    for (const [b0, b1] of bandRanges) {
      const x0 = x.getPixelForValue(b0), x1 = x.getPixelForValue(b1);
      const yb = (o.bandBottom !== undefined && o.bandBottom !== null) ? y.getPixelForValue(o.bandBottom) : a.bottom;
      ctx.fillRect(x0, a.top, x1 - x0, yb - a.top);
    }
    ctx.restore();
  },
  afterDatasetsDraw(chart, args, o) {
    const {ctx, chartArea: a, scales: {x, y}} = chart;
    ctx.save();
    ctx.strokeStyle = '#111'; ctx.lineWidth = 1.4;
    const xt = o.xt, yt = o.yt;
    if (xt) {
      for (let v = xt.from; v <= xt.to + 0.01; v += xt.step) {
        const px = Math.round(x.getPixelForValue(v)) + 0.5;
        const major = xt.major && Math.abs(((v - xt.from) % xt.major)) < 0.01;
        const len = major ? xt.lenMajor : xt.len;
        ctx.beginPath();
        ctx.moveTo(px, a.bottom + (major ? (xt.out || 0) : 0));
        ctx.lineTo(px, a.bottom - len); ctx.stroke();
      }
    }
    if (yt) {
      for (let v = yt.from; v <= yt.to + 0.01; v += yt.step) {
        const py = Math.round(y.getPixelForValue(v)) + 0.5;
        const major = yt.major && Math.abs(((v - yt.from) % yt.major)) < 0.01;
        const len = major ? yt.lenMajor : yt.len;
        ctx.beginPath();
        ctx.moveTo(a.left - (major ? (yt.out || 0) : 0), py);
        ctx.lineTo(a.left + len, py); ctx.stroke();
      }
    }
    ctx.lineWidth = 1.6; ctx.strokeStyle = '#111';
    ctx.strokeRect(a.left, a.top, a.right - a.left, a.bottom - a.top);
    ctx.restore();
  }
};

function lineDs(arr, color, w, dash, order) {
  return {data: pts(arr), borderColor: color, borderWidth: w, borderDash: dash || [],
    pointRadius: 0, fill: false, cubicInterpolationMode: 'monotone', order: order || 0};
}

function topChart(id, datasets, ymin, ymax, frame, showX, pad) {
  const xs = {type: 'linear', min: 700, max: 3200, display: showX,
            grid: {display: false, drawTicks: false}, border: {display: false},
            ticks: {stepSize: 500, padding: 7, color: '#111', maxRotation: 0, autoSkip: false,
                    font: {family: 'Liberation Serif', size: 20}, callback: fmtK}};
  if (showX) xs.afterFit = fixH;
  return new Chart(document.getElementById(id), {
    type: 'line',
    data: {datasets},
    options: {
      responsive: false, animation: false, devicePixelRatio: 1, events: [],
      layout: {padding: pad},
      plugins: {legend: {display: false}, tooltip: {enabled: false}, frame},
      scales: {
        x: xs,
        y: {type: 'linear', min: ymin, max: ymax, display: false}
      }
    },
    plugins: [framePlugin]
  });
}

const RED = '#ec2228', BLUE = '#3050b8';

topChart('cA', [
  lineDs(aRed, RED, 1.5, [], 0),
  lineDs(aBlue, BLUE, 2.4, [3,3], 1),
  lineDs(aGreen, '#1e9e3e', 1.8, [], 2)
], 0, 10.24, {bands: true, xt: {from: 700, to: 3200, step: 100, len: 5}, yt: {from: 1, to: 9, step: 1, len: 5}}, false,
  {left: 56, right: 36, top: 5, bottom: 4});

topChart('cB', [
  lineDs(bGreen, '#4dbb47', 1.6, [], 0),
  lineDs(bBlue, BLUE, 2.4, [3,3], 1)
], 0, 4.22, {bands: true, yt: {from: 1, to: 3, step: 1, len: 5}}, false,
  {left: 56, right: 36, top: 4, bottom: 4});

topChart('cC', [
  lineDs(cRed, RED, 1.4, [], 0),
  lineDs(cGreen, '#5fbf4f', 1.5, [], 1),
  lineDs(cBlack, '#222', 1.3, [], 2),
  lineDs(cDash, '#111', 1.8, [8,5], 3)
], 0, 4.91, {bands: true, yt: {from: 1, to: 4, step: 1, len: 5}}, false,
  {left: 56, right: 36, top: 4, bottom: 4});

topChart('cD', [
  lineDs(dRed, RED, 1.8, [], 0),
  lineDs(dGreen, '#55b547', 1.6, [13,3], 1)
], -0.66, 4.53, {bands: true, bandBottom: 0.12,
  xt: {from: 700, to: 3200, step: 100, len: 7, major: 500, lenMajor: 10, out: 5},
  yt: {from: 1, to: 4, step: 1, len: 6}}, true,
  {left: 56, right: 36, top: 4, bottom: 5});

function refLines() {
  const L = (arr, color, w, dash) => ({type: 'line', data: pts(arr), borderColor: color, borderWidth: w,
    borderDash: dash || [], pointRadius: 0, showLine: true, fill: false, order: 0});
  return [
    L(dmLine, '#111', 1.6), L(chur, '#222', 1.1),
    L(ga15, '#111', 1.5, [7,6]), L(ga20, '#111', 1.5, [7,6]), L(ga25, '#111', 1.5, [7,6]),
    L(ref1000, '#4a62c8', 1.1)
  ];
}
function sc(arr, bg, bd, order) {
  return {type: 'scatter', data: pts(arr), showLine: false, pointRadius: 4.3, pointBorderWidth: 1,
    pointBackgroundColor: bg, pointBorderColor: bd, order};
}
function epsChart(id, datasets, showX, pad, hide30) {
  const xs = {type: 'linear', min: 500, max: 3000, display: showX,
            grid: {display: false, drawTicks: false}, border: {display: false},
            ticks: {stepSize: 500, padding: 7, color: '#111', maxRotation: 0, autoSkip: false,
                    font: {family: 'Liberation Serif', size: 20}, callback: fmtK}};
  if (showX) xs.afterFit = fixH;
  return new Chart(document.getElementById(id), {
    type: 'scatter',
    data: {datasets},
    options: {
      responsive: false, animation: false, devicePixelRatio: 1, events: [],
      layout: {padding: pad},
      plugins: {legend: {display: false}, tooltip: {enabled: false},
        frame: {xt: {from: 500, to: 3000, step: 100, len: 5, major: 500, lenMajor: 9},
                yt: {from: -30, to: 30, step: 2, len: 4, major: 10, lenMajor: 8, out: 3}}},
      scales: {
        x: xs,
        y: {type: 'linear', min: -30, max: 30, position: 'left',
            grid: {display: false, drawTicks: false}, border: {display: false},
            ticks: {stepSize: 10, padding: 5, color: '#111',
                    font: {family: 'Liberation Serif', size: 21},
                    callback: v => (hide30 && v === 30) ? '' : fmtMinus(v)},
            afterFit: fixW}
      }
    },
    plugins: [framePlugin]
  });
}

epsChart('cE', [
  ...refLines(),
  sc(eYZ, 'rgba(120,195,205,0.6)', 'rgba(60,120,130,0.7)', 1),
  sc(eQXN, '#ffe800', '#333', 2),
  sc(eAFO, 'rgba(255,255,255,0)', '#222', 3)
], false, {left: 0, right: 34, top: 18, bottom: 4}, false);

epsChart('cF', [
  ...refLines(),
  sc(fYZ, 'rgba(255,255,255,0)', '#222', 1),
  sc(fHX, '#ffe800', '#333', 2)
], true, {left: 0, right: 34, top: 4, bottom: 32}, true);
</script>
</body></html>
